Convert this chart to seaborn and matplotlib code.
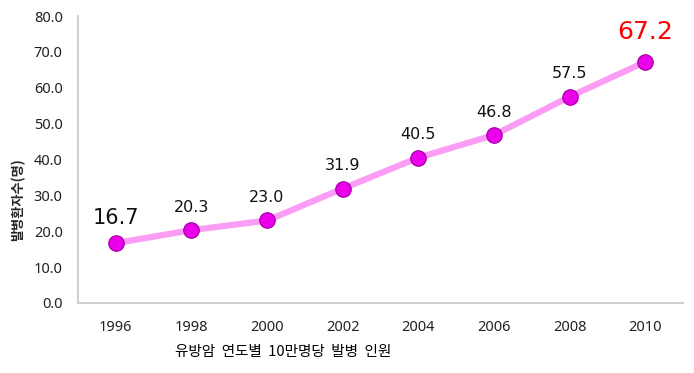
import matplotlib
matplotlib.use("Agg")
import matplotlib.pyplot as plt
import seaborn as sns
import pandas as pd

years = ["1996", "1998", "2000", "2002", "2004", "2006", "2008", "2010"]
values = [16.7, 20.3, 23.0, 31.9, 40.5, 46.8, 57.5, 67.2]
yticks = [0, 10, 20, 30, 40, 50, 60, 70, 80]

sns.set_theme(style="white")
plt.rcParams['font.family'] = ['Noto Sans CJK KR', 'DejaVu Sans']

df = pd.DataFrame({"year": years, "value": values})

fig = plt.figure(figsize=(6.94, 3.73), dpi=100)
ax = fig.add_axes([78/694, 1-303/373, 605/694, 287/373])

sns.lineplot(data=df, x="year", y="value", ax=ax, color="#fb9cf5", linewidth=4.5,
             sort=False, zorder=2)
sns.scatterplot(data=df, x="year", y="value", ax=ax, color="#ea00ea", s=125,
                edgecolor="#a000a0", linewidth=0.8, zorder=3)

ax.set_xlim(-0.5, len(years) - 0.5)
ax.set_ylim(0, 80)
ax.set_yticks(yticks)
ax.set_yticklabels([f"{v:.1f}" for v in yticks])
ax.tick_params(axis="x", length=0, pad=12)
ax.tick_params(axis="y", length=0, pad=11)
for lab in ax.get_xticklabels() + ax.get_yticklabels():
    lab.set_color("#222222")
    lab.set_family("Noto Sans")
    lab.set_fontsize(10.5)

for s in ["top", "right"]:
    ax.spines[s].set_visible(False)
for s in ["left", "bottom"]:
    ax.spines[s].set_color("#d0d0d0")
    ax.spines[s].set_linewidth(1.5)

for i, v in enumerate(values):
    if i == len(values) - 1:
        ax.annotate(f"{v:.1f}", (i, v), xytext=(0, 13), textcoords="offset points",
                    ha="center", va="bottom", fontsize=18, color="#ff0000",
                    family="DejaVu Sans")
    elif i == 0:
        ax.annotate(f"{v:.1f}", (i, v), xytext=(0, 11), textcoords="offset points",
                    ha="center", va="bottom", fontsize=15, color="#111111",
                    family="DejaVu Sans")
    else:
        ax.annotate(f"{v:.1f}", (i, v), xytext=(0, 11), textcoords="offset points",
                    ha="center", va="bottom", fontsize=11.5, color="#111111",
                    family="DejaVu Sans")

ax.set_xlabel("")
ax.set_ylabel("")
fig.text(18/694, 1-200/373, "발병환자수(명)", fontsize=9.5, fontweight="bold",
         rotation=90, ha="center", va="center")
fig.text(175/694, 1-352/373, "유방암  연도별  10만명당  발병  인원", fontsize=10.5,
         ha="left", va="center", color="#000000")

fig.savefig("out.png", dpi=100, facecolor="white")
